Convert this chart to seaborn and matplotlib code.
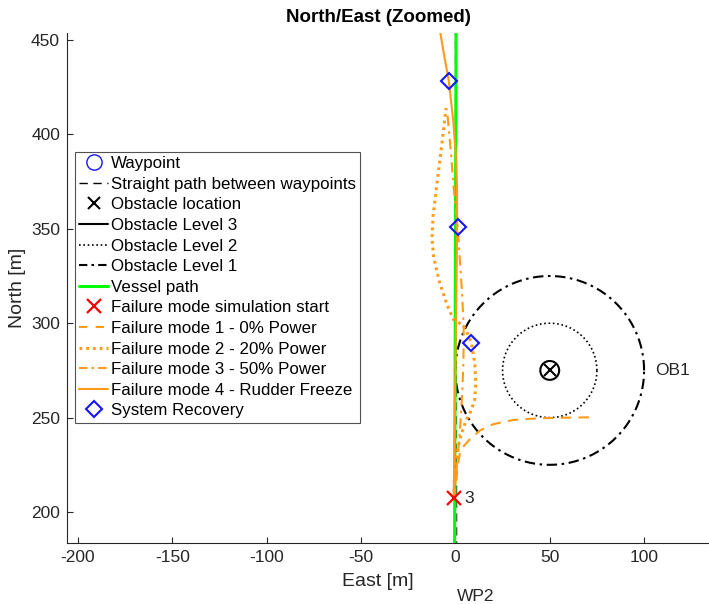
import numpy as np
import matplotlib
matplotlib.use("Agg")
import matplotlib.pyplot as plt
import seaborn as sns
from matplotlib.lines import Line2D

# ---- data -------------------------------------------------------------
wp_east = [1.0, 1.0]
wp_north = [155.5, 620.0]
wp_names = ["WP2", "WP3"]

path_east = [0.8, -0.1]
path_north = [150.0, 500.0]

vessel_east = [-0.5, 0.5]
vessel_north = [150.0, 500.0]

ob_east, ob_north = 50.0, 275.0
ob_radius = {"L3": 5.0, "L2": 25.0, "L1": 50.0}
ob_name = "OB1"

fail_start_east, fail_start_north = -0.9, 207.2
fail_start_label = "3"

fm1_east = [-0.9, 0.2, 1.2, 2.6, 7.1, 13.2, 20.0, 30.9, 45.0, 60.0, 73.3]
fm1_north = [207.2, 215.0, 224.0, 232.7, 238.0, 243.3, 246.5, 248.8, 249.7, 250.0, 250.2]

fm2_east = [-0.9, 0.0, 0.9, 3.0, 5.5, 8.5, 10.3, 10.8, 10.3, 8.5, 6.0, 4.2, 1.5,
            -1.0, -4.5, -8.5, -11.5, -12.4, -11.8, -10.0, -8.0, -6.3, -4.9]
fm2_north = [207.2, 220.0, 232.0, 241.0, 248.0, 254.0, 260.0, 268.0, 279.0, 289.6, 295.5, 298.7, 300.5,
             302.0, 310.0, 322.0, 335.0, 345.0, 357.0, 372.0, 388.0, 402.0, 414.0]

fm3_east = [-0.9, 0.5, 1.5, 2.6, 3.6, 4.3, 4.4, 3.6, 2.4, 1.2, -0.2, -0.9, -2.5, -4.4]
fm3_north = [207.2, 220.0, 232.0, 246.0, 262.0, 280.0, 298.0, 315.0, 333.0, 351.2, 365.0, 372.0, 392.0, 412.8]

fm4_east = [-0.9, -0.6, -0.2, 0.3, 0.7, 0.9, 0.9, 0.2, -1.2, -3.5, -5.8, -8.0, -9.5]
fm4_north = [207.2, 230.0, 260.0, 295.0, 330.0, 350.0, 372.0, 390.0, 408.0, 428.4, 441.0, 454.0, 462.0]

rec_east = [-3.5, 1.2, 8.5]
rec_north = [428.4, 351.2, 289.6]

xticks = [-200, -150, -100, -50, 0, 50, 100]
yticks = [200, 250, 300, 350, 400, 450]

# ---- style ------------------------------------------------------------
sns.set_theme(style="white")
plt.rcParams["font.family"] = ["Liberation Sans", "DejaVu Sans"]
txt = "#262626"
orange = "#FF9A1A"
blue = "#1515FF"

fig = plt.figure(figsize=(7.09, 6.04), dpi=100)
ax = fig.add_axes([67 / 709, 1 - 543 / 604, (709 - 67) / 709, (543 - 33) / 604])

# obstacle circles
theta = np.linspace(0, 2 * np.pi, 361)
circ = {k: (ob_east + r * np.cos(theta), ob_north + r * np.sin(theta)) for k, r in ob_radius.items()}

# straight path and waypoints
sns.lineplot(x=path_east, y=path_north, sort=False, estimator=None, ax=ax,
             color="#555555", lw=1.0, linestyle=(0, (6, 4)))
ax.plot(wp_east, wp_north, "o", mfc="none", mec=blue, ms=10, clip_on=True)

ax.plot(ob_east, ob_north, "x", color="black", ms=8, mew=1.5)
ax.plot(*circ["L3"], color="black", lw=1.5)
ax.plot(*circ["L2"], color="black", lw=1.2, linestyle=(0, (1, 1.6)))
ax.plot(*circ["L1"], color="black", lw=1.5, linestyle=(0, (5, 2.2, 1.2, 2.2)))

sns.lineplot(x=vessel_east, y=vessel_north, sort=False, estimator=None, ax=ax,
             color="#00FF00", lw=2.2)

ax.plot(fail_start_east, fail_start_north, "x", color="red", ms=10, mew=1.6, zorder=6)

sns.lineplot(x=fm1_east, y=fm1_north, sort=False, estimator=None, ax=ax,
             color=orange, lw=1.5, linestyle=(0, (5, 3.5)))
sns.lineplot(x=fm2_east, y=fm2_north, sort=False, estimator=None, ax=ax,
             color=orange, lw=2.2, linestyle=(0, (0.9, 1.3)))
sns.lineplot(x=fm3_east, y=fm3_north, sort=False, estimator=None, ax=ax,
             color=orange, lw=1.5, linestyle=(0, (5, 2.5, 1.2, 2.5)))
sns.lineplot(x=fm4_east, y=fm4_north, sort=False, estimator=None, ax=ax,
             color=orange, lw=1.5)

ax.plot(rec_east, rec_north, "D", mfc="none", mec=blue, mew=1.5, ms=8, zorder=7)

# labels in the plot
ax.text(wp_east[0], wp_north[0], wp_names[0], fontsize=12.5, color=txt,
        ha="left", va="center", clip_on=False)
ax.text(ob_east + ob_radius["L1"] + 6, ob_north, ob_name, fontsize=12.5, color=txt,
        ha="left", va="center")
ax.text(fail_start_east + 5.8, fail_start_north, fail_start_label, fontsize=12.5, color=txt,
        ha="left", va="center")

ax.set_xlim(-205.8, 134.4)
ax.set_ylim(183.6, 453.7)
ax.set_xticks(xticks)
ax.set_yticks(yticks)
ax.set_xticklabels([str(v) for v in xticks])
ax.set_yticklabels([str(v) for v in yticks])
ax.tick_params(direction="in", length=4, width=0.8, colors=txt, labelsize=12.5, pad=5,
               bottom=True, left=True, top=False, right=False)
for s in ["top", "right"]:
    ax.spines[s].set_visible(False)
for s in ["left", "bottom"]:
    ax.spines[s].set_color("#262626")
    ax.spines[s].set_linewidth(0.8)
ax.set_xlabel("")
ax.set_ylabel("")

fig.text(378 / 709, 1 - 581 / 604, "East [m]", fontsize=14, color=txt, ha="center", va="center")
fig.text(18 / 709, 1 - 288 / 604, "North [m]", fontsize=14, color=txt, ha="center", va="center",
         rotation=90)
fig.text(378 / 709, 1 - 17 / 604, "North/East (Zoomed)", fontsize=13.5, fontweight="bold",
         color="black", ha="center", va="center")

handles = [
    Line2D([], [], ls="none", marker="o", mfc="none", mec=blue, ms=11),
    Line2D([], [], color="black", lw=1.0, ls=(0, (6, 4))),
    Line2D([], [], ls="none", marker="x", color="black", ms=9, mew=1.5),
    Line2D([], [], color="black", lw=1.5),
    Line2D([], [], color="black", lw=1.2, ls=(0, (1, 1.6))),
    Line2D([], [], color="black", lw=1.5, ls=(0, (4, 2, 1.2, 2))),
    Line2D([], [], color="#00FF00", lw=2.2),
    Line2D([], [], ls="none", marker="x", color="red", ms=10, mew=1.6),
    Line2D([], [], color=orange, lw=1.5, ls=(0, (4, 4))),
    Line2D([], [], color=orange, lw=2.2, ls=(0, (0.9, 1.3))),
    Line2D([], [], color=orange, lw=1.5, ls=(0, (4, 2, 1.2, 2))),
    Line2D([], [], color=orange, lw=1.5),
    Line2D([], [], ls="none", marker="D", mfc="none", mec=blue, mew=1.5, ms=8),
]
labels = [
    "Waypoint",
    "Straight path between waypoints",
    "Obstacle location",
    "Obstacle Level 3",
    "Obstacle Level 2",
    "Obstacle Level 1",
    "Vessel path",
    "Failure mode simulation start",
    "Failure mode 1 - 0% Power",
    "Failure mode 2 - 20% Power",
    "Failure mode 3 - 50% Power",
    "Failure mode 4 - Rudder Freeze",
    "System Recovery",
]
leg = fig.legend(handles, labels, loc="upper left", bbox_to_anchor=(75 / 709, 1 - 152 / 604),
                 frameon=True, fancybox=False, fontsize=12.2, handlelength=1.7,
                 handletextpad=0.15, labelspacing=0.33, borderpad=0.25, borderaxespad=0)
leg.get_frame().set_edgecolor("#262626")
leg.get_frame().set_linewidth(0.8)
for t in leg.get_texts():
    t.set_color("black")

fig.savefig("out.png", dpi=100)
